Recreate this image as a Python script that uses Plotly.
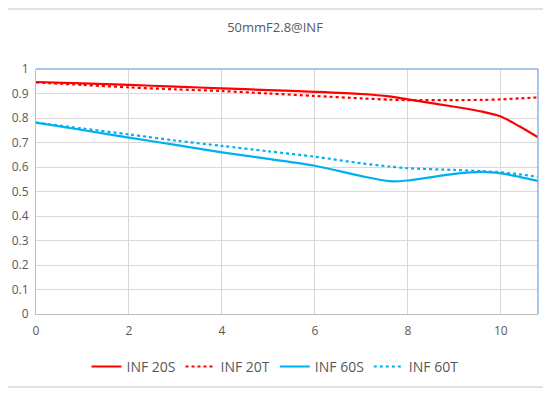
import plotly.graph_objects as go

x_vals = [0, 1, 2, 3, 4, 5, 6, 7, 7.6, 8, 9, 9.6, 10, 10.4, 10.8]
inf_20s = [0.947, 0.941, 0.935, 0.928, 0.921, 0.914, 0.907, 0.898, 0.888, 0.876, 0.846, 0.826, 0.806, 0.766, 0.721]
inf_20t = [0.945, 0.935, 0.925, 0.917, 0.910, 0.900, 0.890, 0.880, 0.875, 0.873, 0.873, 0.874, 0.876, 0.880, 0.884]
inf_60s = [0.781, 0.751, 0.720, 0.690, 0.660, 0.633, 0.605, 0.563, 0.542, 0.545, 0.572, 0.580, 0.574, 0.560, 0.543]
inf_60t = [0.781, 0.757, 0.733, 0.708, 0.686, 0.664, 0.642, 0.615, 0.602, 0.595, 0.588, 0.583, 0.578, 0.570, 0.560]
series_names = ["INF 20S", "INF 20T", "INF 60S", "INF 60T"]
x_ticks = [0, 2, 4, 6, 8, 10]
y_ticks = [0, 0.1, 0.2, 0.3, 0.4, 0.5, 0.6, 0.7, 0.8, 0.9, 1]

RED = "#FF0000"
BLUE = "#00B0F0"
TXT = "#595959"

fig = go.Figure()
for name, ys, color, dash in [
    (series_names[0], inf_20s, RED, "solid"),
    (series_names[1], inf_20t, RED, "dot"),
    (series_names[2], inf_60s, BLUE, "solid"),
    (series_names[3], inf_60t, BLUE, "dot"),
]:
    fig.add_trace(go.Scatter(
        x=x_vals, y=ys, name=name, mode="lines",
        line=dict(color=color, width=2.2, dash=dash, shape="spline", smoothing=0.8),
    ))

# page body has an 8px margin; plot area in window: x 36..538, y 69..314
L, T, PW, PH = 28, 61, 502, 245
W, H = 551, 398

fig.update_layout(
    width=W, height=H,
    margin=dict(l=L, r=W - L - PW, t=T, b=H - T - PH, autoexpand=False),
    paper_bgcolor="white", plot_bgcolor="white",
    font=dict(family="Open Sans, Liberation Sans, sans-serif", color=TXT, size=12),
    title=dict(text="50mmF2.8@INF", x=(275 - 8) / W, xanchor="center", y=1 - 19 / H, yanchor="middle",
               font=dict(size=13, color=TXT)),
    showlegend=True,
    legend=dict(orientation="h", x=(275 - 36) / PW, xanchor="center", y=-0.216, yanchor="middle",
                font=dict(size=14, color=TXT), bgcolor="rgba(0,0,0,0)"),
    xaxis=dict(range=[0, 10.8], tickvals=x_ticks, showgrid=True, gridcolor="#D9D9D9", gridwidth=1,
               zeroline=False, showline=True, linecolor="#BFBFBF", linewidth=1, automargin=False,
               ticks="outside", ticklen=6, tickcolor="rgba(0,0,0,0)",
               tickfont=dict(size=12, color=TXT)),
    yaxis=dict(range=[0, 1], tickvals=y_ticks, ticktext=[str(v) if v not in (0, 1) else str(int(v)) for v in y_ticks],
               showgrid=True, gridcolor="#D9D9D9", gridwidth=1, automargin=False,
               zeroline=False, showline=True, linecolor="#BFBFBF", linewidth=1,
               ticks="outside", ticklen=4, tickcolor="rgba(0,0,0,0)",
               tickfont=dict(size=12, color=TXT)),
    shapes=[
        dict(type="line", xref="paper", yref="paper", x0=0, x1=1, y0=1, y1=1,
             line=dict(color="#8DB4E2", width=1.5)),
        dict(type="line", xref="paper", yref="paper", x0=1, x1=1, y0=0, y1=1,
             line=dict(color="#8DB4E2", width=1.5)),
        dict(type="line", xref="paper", yref="paper", x0=-L / PW, x1=(W - L) / PW,
             y0=(T + PH - 1) / PH, y1=(T + PH - 1) / PH, line=dict(color="#D9D9D9", width=1.5)),
        dict(type="line", xref="paper", yref="paper", x0=-L / PW, x1=(W - L) / PW,
             y0=(T + PH - 379) / PH, y1=(T + PH - 379) / PH, line=dict(color="#D9D9D9", width=1.5)),
    ],
)

fig.write_html("out.html")
